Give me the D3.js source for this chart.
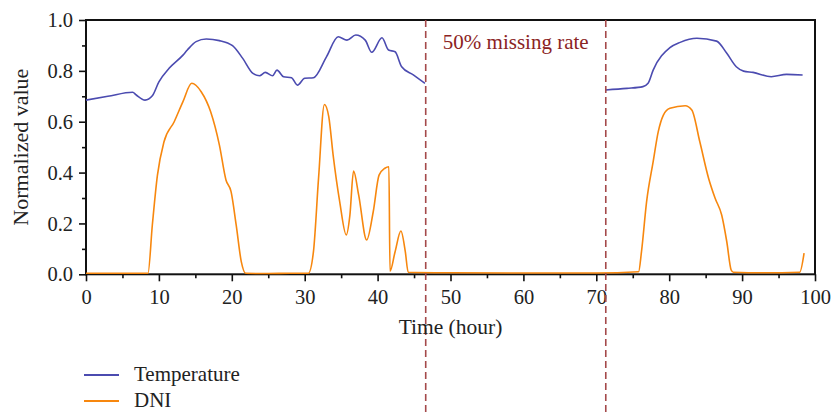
<!DOCTYPE html>
<html>
<head>
<meta charset="utf-8">
<script src="https://cdn.jsdelivr.net/npm/d3@7"></script>
<style>
  html, body { margin: 0; padding: 0; background: #fff; }
  svg { display: block; }
  text { font-family: "Liberation Serif", "DejaVu Serif", serif; fill: #222; }
</style>
</head>
<body>
<svg id="chart" width="834" height="412"></svg>
<script>
// ---- data ----
const tempHours = [0, 3, 6.4, 6.9, 8.1, 9.1, 10.0, 11.4, 13.3, 13.9, 15.1, 16.5, 18.3, 20.1, 21.5, 22.9, 23.8, 24.6, 25.6, 26.2, 27.1, 28.2, 29.0, 30.0, 31.2, 33.0, 34.6, 35.8, 37.0, 38.3, 39.2, 40.6, 41.5, 42.4, 43.3, 44.9, 46.5,
  null,
  71.3, 74.2, 76.4, 77.1, 77.8, 80.1, 81.5, 83.8, 86.5, 87.9, 89.2, 90.2, 91.5, 94.0, 96.1, 98.3];
const tempValues = [0.685, 0.700, 0.716, 0.705, 0.685, 0.702, 0.757, 0.810, 0.862, 0.882, 0.915, 0.925, 0.919, 0.899, 0.849, 0.790, 0.781, 0.794, 0.781, 0.803, 0.777, 0.773, 0.744, 0.771, 0.773, 0.856, 0.934, 0.921, 0.941, 0.921, 0.873, 0.930, 0.882, 0.875, 0.816, 0.784, 0.751,
  null,
  0.725, 0.731, 0.738, 0.751, 0.803, 0.891, 0.912, 0.928, 0.917, 0.869, 0.816, 0.799, 0.794, 0.777, 0.786, 0.784];

const dniHours = [0, 4, 8.5, 9.1, 9.8, 10.7, 12.1, 13.3, 14.5, 15.8, 17.1, 18.3, 19.2, 19.9, 20.6, 21.3, 21.9, 25, 28, 30.5, 31.2, 31.9, 32.7, 33.3, 33.9, 34.8, 35.7, 36.2, 36.7, 37.4, 38.5, 39.4, 40.2, 41.0, 41.55, 41.7, 42.4, 43.2, 43.8, 44.2, 50, 60, 70, 75.8, 76.2, 76.9, 77.8, 78.5, 79.2, 80.1, 82.2, 83.1, 84.2, 85.4, 86.3, 87.2, 87.9, 88.5, 88.8, 93, 97.9, 98.5];
const dniValues = [0.004, 0.004, 0.004, 0.194, 0.390, 0.521, 0.600, 0.679, 0.751, 0.718, 0.639, 0.508, 0.371, 0.325, 0.194, 0.050, 0.004, 0.003, 0.004, 0.004, 0.089, 0.378, 0.668, 0.620, 0.469, 0.286, 0.155, 0.233, 0.406, 0.312, 0.135, 0.246, 0.390, 0.417, 0.423, 0.012, 0.089, 0.170, 0.089, 0.008, 0.006, 0.005, 0.005, 0.010, 0.089, 0.286, 0.443, 0.561, 0.626, 0.653, 0.663, 0.646, 0.521, 0.378, 0.299, 0.233, 0.128, 0.017, 0.008, 0.006, 0.008, 0.083];

const missingBounds = [46.6, 71.3];
const missingLabel = "50% missing rate";
const xTicks = [0, 10, 20, 30, 40, 50, 60, 70, 80, 90, 100];
const yTicks = [0.0, 0.2, 0.4, 0.6, 0.8, 1.0];
const seriesNames = ["Temperature", "DNI"];
const seriesColors = ["#4b4bb0", "#f7870e"];

// ---- layout ----
const svg = d3.select("#chart");
const L = 86, R = 815, T = 20, B = 274.3;
const x = d3.scaleLinear().domain([0, 100]).range([L, R]);
const y = d3.scaleLinear().domain([0, 1]).range([B, T]);

// axes with minor ticks
const xMinor = d3.range(0, 101, 5).filter(v => v % 10 !== 0);
const yMinor = d3.range(0.1, 1.0, 0.2);

const gx = svg.append("g").attr("transform", `translate(0,${B})`);
gx.call(d3.axisBottom(x).tickValues(xTicks).tickSize(7).tickPadding(8).tickFormat(d3.format("d")));
gx.append("g").call(d3.axisBottom(x).tickValues(xMinor).tickSize(4).tickFormat(""));
const gy = svg.append("g").attr("transform", `translate(${L},0)`);
gy.call(d3.axisLeft(y).tickValues(yTicks).tickSize(7).tickPadding(6).tickFormat(d3.format(".1f")));
gy.append("g").call(d3.axisLeft(y).tickValues(yMinor).tickSize(4).tickFormat(""));

svg.selectAll(".domain").remove();
svg.selectAll(".tick line").attr("stroke", "#111").attr("stroke-width", 1.6);
svg.selectAll(".tick text").style("font-family", "'Liberation Serif', serif").style("font-size", "20.5px").attr("fill", "#222");

// frame
svg.append("rect").attr("x", L).attr("y", T).attr("width", R - L).attr("height", B - T)
  .attr("fill", "none").attr("stroke", "#111").attr("stroke-width", 2);

// lines
const tempData = tempHours.map((h, i) => ({h, v: tempValues[i]}));
const dniData = dniHours.map((h, i) => ({h, v: dniValues[i]}));
const line = d3.line().defined(d => d.h !== null && d.v !== null)
  .x(d => x(d.h)).y(d => y(d.v)).curve(d3.curveMonotoneX);

svg.append("path").datum(dniData).attr("d", line).attr("fill", "none")
  .attr("stroke", seriesColors[1]).attr("stroke-width", 1.6);
svg.append("path").datum(tempData).attr("d", line).attr("fill", "none")
  .attr("stroke", seriesColors[0]).attr("stroke-width", 1.6);

// missing-rate dashed lines
missingBounds.forEach(b => {
  svg.append("line").attr("x1", x(b)).attr("x2", x(b)).attr("y1", T).attr("y2", 412)
    .attr("stroke", "#a4494a").attr("stroke-width", 1.6).attr("stroke-dasharray", "7,4");
});
svg.append("text").attr("x", (x(missingBounds[0]) + x(missingBounds[1])) / 2).attr("y", 49)
  .attr("text-anchor", "middle").style("font-size", "21px").style("fill", "#8b2323").text(missingLabel);

// axis titles
svg.append("text").attr("x", (L + R) / 2).attr("y", 334).attr("text-anchor", "middle")
  .style("font-size", "21.5px").text("Time (hour)");
svg.append("text").attr("transform", `translate(28,${(T + B) / 2}) rotate(-90)`).attr("text-anchor", "middle")
  .style("font-size", "22px").text("Normalized value");

// legend
const legY = [375, 401];
seriesNames.forEach((name, i) => {
  svg.append("line").attr("x1", 84).attr("x2", 119).attr("y1", legY[i]).attr("y2", legY[i])
    .attr("stroke", seriesColors[i]).attr("stroke-width", 2);
  svg.append("text").attr("x", 134).attr("y", legY[i] + 5.5).style("font-size", "21px").text(name);
});
</script>
</body>
</html>
